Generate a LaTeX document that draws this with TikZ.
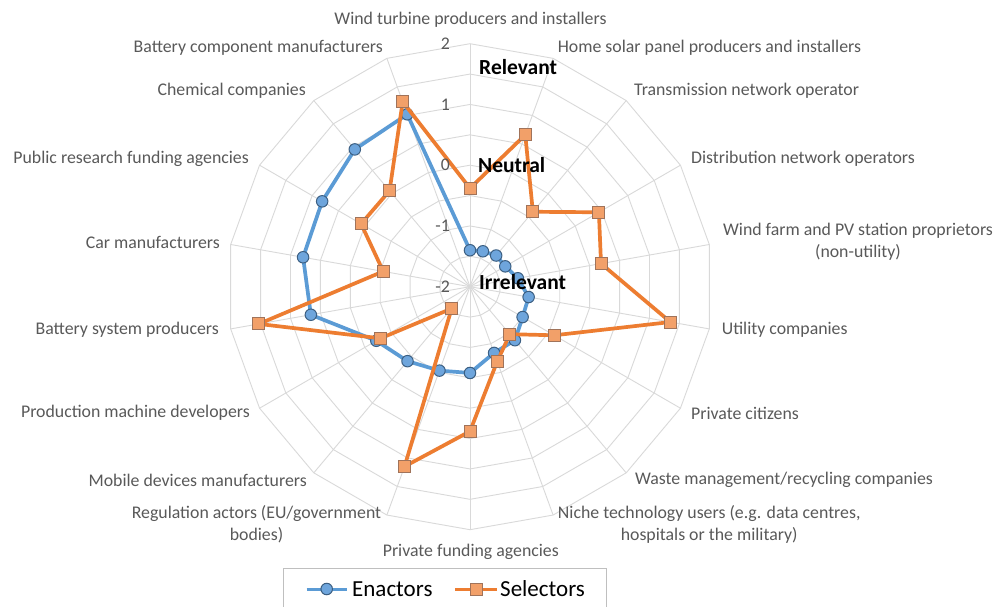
\documentclass[tikz,border=0pt]{standalone}
\usepackage{fontspec}
\setmainfont{Carlito}
\definecolor{gridgray}{RGB}{217,217,217}
\definecolor{labelgray}{RGB}{89,89,89}
\definecolor{enblue}{RGB}{91,155,213}
\definecolor{enfill}{RGB}{110,165,220}
\definecolor{enedge}{RGB}{60,95,130}
\definecolor{selorange}{RGB}{237,125,49}
\definecolor{selfill}{RGB}{242,160,105}
\definecolor{seledge}{RGB}{160,115,90}
\definecolor{legendgray}{RGB}{191,191,191}
\tikzset{
  gridline/.style={draw=gridgray, line width=0.9pt},
  catlabel/.style={text=labelgray, inner sep=0pt, font=\fontsize{17.8}{22}\selectfont},
  axislabel/.style={text=labelgray, inner sep=0pt, anchor=east, font=\fontsize{17.8}{22}\selectfont},
  levellabel/.style={text=black, inner sep=0pt, anchor=west, font=\fontsize{21.5}{26}\selectfont\bfseries},
  enactline/.style={draw=enblue, line width=3.7pt, line join=round},
  selline/.style={draw=selorange, line width=3.7pt, line join=round},
  enactmark/.style={circle, fill=enfill, draw=enedge, line width=1pt, minimum size=11.5pt, inner sep=0pt},
  selmark/.style={rectangle, fill=selfill, draw=seledge, line width=1pt, minimum size=12pt, inner sep=0pt},
  legendtext/.style={text=black, inner sep=0pt, anchor=west, font=\fontsize{23}{27}\selectfont}
}
\begin{document}
\begin{tikzpicture}[x=1pt,y=1pt]
\useasboundingbox (-470,-320.3) rectangle (525,286.7);
\fill[white] (-470,-320.3) rectangle (525,286.7);

\foreach \a in {0,...,17}
  \draw[gridline] (0,0) -- ({90-20*\a}:243);
\foreach \k in {1,...,8}
  \draw[gridline] (90:\k*30.375) \foreach \a in {1,...,17} { -- ({90-20*\a}:\k*30.375) } -- cycle;

\foreach \v [count=\i from 0] in {-1.4,-1.38,-1.33,-1.33,-1.2,-1.02,-1.0,-0.85,-0.84,-0.58,-0.53,-0.4,-0.22,0.66,0.79,0.81,0.95,1.02}
  \coordinate (e\i) at ({90-20*\i}:{(\v+2)*60.75});
\foreach \v [count=\i from 0] in {-0.38,0.66,-0.39,0.45,0.19,1.35,-0.4,-0.98,-0.69,0.38,1.15,-1.53,-0.3,1.53,-0.55,0.07,0.06,1.24}
  \coordinate (s\i) at ({90-20*\i}:{(\v+2)*60.75});

\draw[enactline] (e0) \foreach \i in {1,...,17} { -- (e\i) } -- cycle;
\foreach \i in {0,...,17}
  \node[enactmark] (em\i) at (e\i) {};
\draw[selline] (s0) \foreach \i in {1,...,17} { -- (s\i) } -- cycle;
\foreach \i in {0,...,17}
  \node[selmark] (sm\i) at (s\i) {};

\node[axislabel] (ax2) at (-20,243.4) {2};
\node[axislabel] (ax1) at (-20,182.25) {1};
\node[axislabel] (ax0) at (-20,121.5) {0};
\node[axislabel] (axm1) at (-20,60.75) {-1};
\node[axislabel] (axm2) at (-20,0) {-2};

\node[levellabel] (relevant) at (9,219.7) {Relevant};
\node[levellabel] (neutral) at (8,121.7) {Neutral};
\node[levellabel] (irrelevant) at (9,4.7) {Irrelevant};

\node[catlabel] (c1) at (0.5,266.7) {Wind turbine producers and installers};
\node[catlabel, anchor=west] (c2) at (87.7,238.7) {Home solar panel producers and installers};
\node[catlabel, anchor=west] (c3) at (164,195.7) {Transmission network operator};
\node[catlabel, anchor=west] (c4) at (221,127.7) {Distribution network operators};
\node[catlabel, align=center] (c5) at (388,44.7) {Wind farm and PV station proprietors\\(non-utility)};
\node[catlabel, anchor=west] (c6) at (251.7,-43.3) {Utility companies};
\node[catlabel, anchor=west] (c7) at (221,-126.3) {Private citizens};
\node[catlabel, anchor=west] (c8) at (165,-193.3) {Waste management/recycling companies};
\node[catlabel, align=center] (c9) at (239.2,-237.3) {Niche technology users (e.g. data centres,\\hospitals or the military)};
\node[catlabel] (c10) at (0.8,-265) {Private funding agencies};
\node[catlabel, align=center] (c11) at (-213.5,-237.3) {Regulation actors (EU/government\\bodies)};
\node[catlabel, anchor=east] (c12) at (-163,-193.3) {Mobile devices manufacturers};
\node[catlabel, anchor=east] (c13) at (-220,-126.3) {Production machine developers};
\node[catlabel, anchor=east] (c14) at (-251,-43.3) {Battery system producers};
\node[catlabel, anchor=east] (c15) at (-250,44.7) {Car manufacturers};
\node[catlabel, anchor=east] (c16) at (-221,127.7) {Public research funding agencies};
\node[catlabel, anchor=east] (c17) at (-164,195.7) {Chemical companies};
\node[catlabel, anchor=east] (c18) at (-87,238.7) {Battery component manufacturers};

\draw[legendgray, line width=1pt] (-186.7,-325) -- (-186.7,-281.6) -- (136,-281.6) -- (136,-325);
\coordinate (enA) at (-163.3,-302.3);
\coordinate (enB) at (-123.3,-302.3);
\draw[enactline, line width=3pt] (enA) -- (enB);
\node[enactmark] (enkey) at (-143.3,-302.3) {};
\node[legendtext] (enlabel) at (-118,-302.3) {Enactors};
\coordinate (selA) at (-15,-302.3);
\coordinate (selB) at (27,-302.3);
\draw[selline, line width=3pt] (selA) -- (selB);
\node[selmark] (selkey) at (6,-302.3) {};
\node[legendtext] (sellabel) at (30,-302.3) {Selectors};
\end{tikzpicture}
\end{document}
